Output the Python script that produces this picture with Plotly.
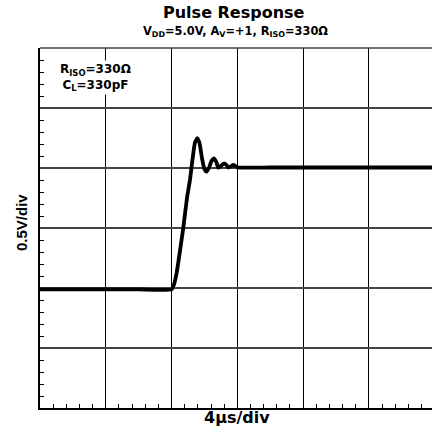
import plotly.graph_objects as go

# Time (µs) relative to the input step, output voltage (V) relative to initial level
t_us = [-8.0, -4.0, -2.0, 0.0, 0.15, 0.31, 0.55, 0.71, 0.95, 1.12, 1.27, 1.42, 1.56,
        1.70, 1.85, 2.00, 2.13, 2.27, 2.43, 2.58, 2.72, 2.84, 3.00, 3.20, 3.34,
        3.45, 3.61, 3.75, 3.92, 4.04, 6.0, 8.0, 10.0, 12.0, 14.0, 15.84]
v_out = [-0.012, -0.012, -0.012, -0.012, 0.03, 0.125, 0.344, 0.498, 0.761, 0.90, 1.067, 1.21, 1.248,
         1.208, 1.083, 0.992, 0.969, 1.0, 1.058, 1.081, 1.05, 1.003, 1.017, 1.039, 1.025,
         1.003, 1.013, 1.025, 1.013, 1.004, 1.004, 1.004, 1.004, 1.004, 1.004, 1.004]

x_range = [-8, 15.84]
y_range = [-1.0, 2.0]

FONT_W = "DejaVu Sans, Verdana, sans-serif"
FONT_A = "Liberation Sans, Arial, sans-serif"

fig = go.Figure()
fig.add_trace(go.Scatter(x=t_us, y=v_out, mode="lines",
                         line=dict(color="black", width=3.8, shape="spline", smoothing=0.4),
                         hoverinfo="skip", showlegend=False))

fig.update_layout(
    width=432, height=436,
    margin=dict(l=40, r=0, t=48, b=28),
    paper_bgcolor="white", plot_bgcolor="white",
    font=dict(family=FONT_A, color="black"),
    showlegend=False,
)
fig.update_xaxes(range=x_range, dtick=4, tick0=0, showticklabels=False,
                 showgrid=True, gridcolor="black", gridwidth=1, zeroline=False,
                 showline=True, linecolor="black", linewidth=2,
                 ticks="", minor=dict(dtick=0.8, tick0=0, ticks="inside", ticklen=4,
                                      tickcolor="black", tickwidth=1, showgrid=False))
fig.update_yaxes(range=y_range, dtick=0.5, tick0=0, showticklabels=False,
                 showgrid=True, gridcolor="#444444", gridwidth=1.5, zeroline=False,
                 showline=True, linecolor="black", linewidth=2,
                 ticks="", minor=dict(dtick=0.1, tick0=0, ticks="inside", ticklen=4,
                                      tickcolor="black", tickwidth=1, showgrid=False))

# top border grid line (gray)
fig.add_shape(type="line", xref="paper", yref="paper", x0=0, x1=1, y0=1, y1=1,
              line=dict(color="#444444", width=1.5))

def px_x(px):
    return (px - 40) / 392.0

def px_y(py):
    return (408 - py) / 360.0

fig.add_annotation(text="<b>Pulse Response</b>", xref="paper", yref="paper",
                   x=px_x(234), y=px_y(13), xanchor="center", yanchor="middle",
                   showarrow=False, font=dict(size=16, family=FONT_W))
fig.add_annotation(text="<b>V<sub>DD</sub>=5.0V, A<sub>V</sub>=+1, R<sub>ISO</sub>=330Ω</b>",
                   xref="paper", yref="paper", x=px_x(235), y=px_y(31.5),
                   xanchor="center", yanchor="middle", showarrow=False,
                   font=dict(size=11.4, family=FONT_W))
fig.add_annotation(text="<b>4µs/div</b>", xref="paper", yref="paper",
                   x=px_x(237), y=px_y(418), xanchor="center", yanchor="middle",
                   showarrow=False, font=dict(size=16, family=FONT_W))
fig.add_annotation(text="<b>0.5V/div</b>", xref="paper", yref="paper",
                   x=px_x(21), y=px_y(223), xanchor="center", yanchor="middle",
                   textangle=-90, showarrow=False, font=dict(size=15, family=FONT_A))
fig.add_annotation(text="<b>R<sub>ISO</sub>=330Ω</b><br><b>C<sub>L</sub>=330pF</b>",
                   xref="paper", yref="paper", x=px_x(95), y=px_y(77),
                   xanchor="center", yanchor="middle", align="center",
                   showarrow=False, font=dict(size=12, family=FONT_W),
                   bgcolor="white")

fig.write_html("out.html", config={"displayModeBar": False},
               post_script="document.body.style.margin='0';document.body.style.padding='0';")
